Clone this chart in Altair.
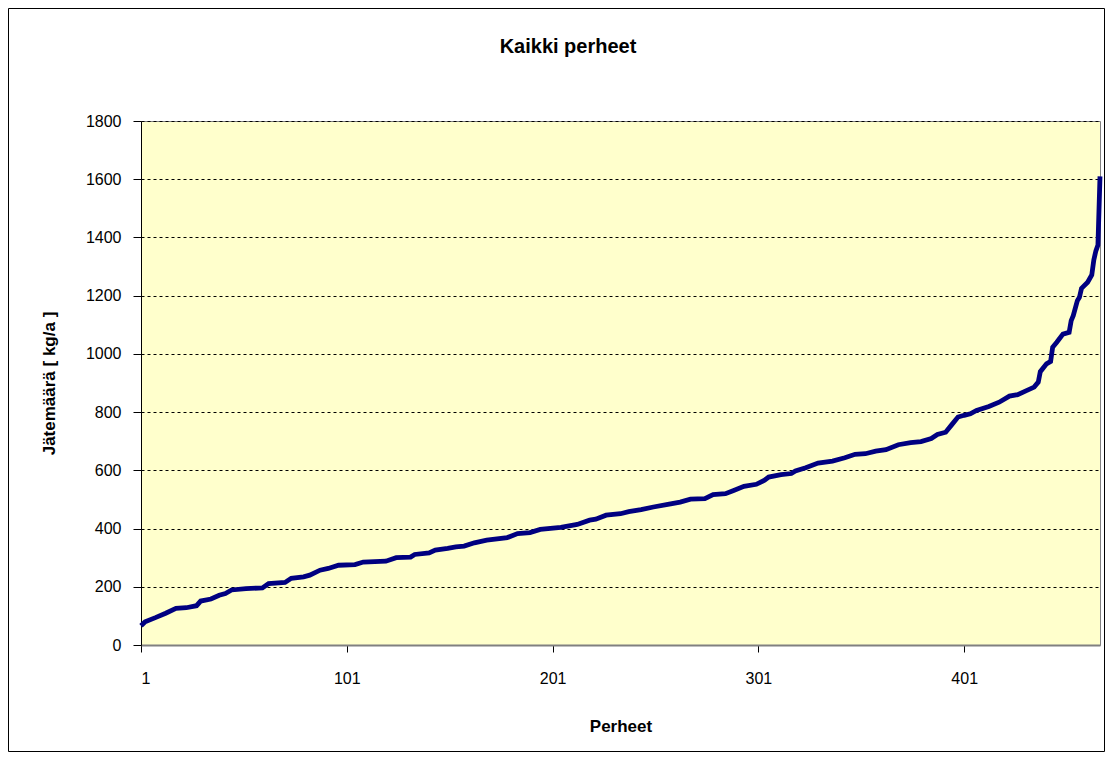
import altair as alt
import pandas as pd

# Family index (sorted by waste amount) and waste amount [kg/a]
perhe = [1, 3, 8, 13, 18, 23, 28, 30, 35, 39, 42, 45, 52, 60, 63, 71, 74, 80, 83, 88,
         92, 97, 105, 109, 120, 125, 132, 134, 141, 144, 150, 154, 158, 163, 169, 179,
         184, 190, 195, 205, 213, 219, 222, 227, 234, 238, 244, 250, 257, 263, 268, 275,
         279, 285, 289, 294, 300, 304, 306, 312, 317, 319, 324, 330, 337, 343, 348, 353,
         358, 363, 369, 375, 380, 385, 388, 392, 395, 398, 401, 404, 407, 413, 418, 423,
         427, 431, 435, 437, 438, 441, 443, 444, 446, 449, 452, 453, 454, 456, 457, 458,
         461, 463, 464, 465, 466, 467]
jatemaara = [66, 80, 94, 109, 126, 128, 135, 151, 158, 171, 177, 189, 194, 196, 211, 215,
             229, 234, 240, 257, 263, 274, 276, 285, 288, 300, 302, 311, 316, 326, 332,
             337, 340, 351, 360, 369, 383, 386, 397, 404, 414, 429, 432, 446, 451, 458,
             465, 474, 483, 491, 501, 503, 517, 520, 531, 545, 552, 566, 577, 585, 589,
             598, 609, 625, 632, 643, 655, 657, 666, 671, 688, 695, 699, 709, 723, 731,
             757, 783, 789, 794, 806, 819, 834, 855, 860, 873, 886, 903, 939, 966, 974,
             1023, 1040, 1068, 1074, 1114, 1131, 1183, 1194, 1225, 1246, 1271, 1323, 1354,
             1374, 1610]

x_ticks = [1, 101, 201, 301, 401]
y_ticks = [0, 200, 400, 600, 800, 1000, 1200, 1400, 1600, 1800]
chart_title = "Kaikki perheet"

df = pd.DataFrame({"Perheet": perhe, "Jätemäärä": jatemaara})

FONT = "Liberation Sans"
W, H = 959, 524

line = alt.Chart(df).mark_line(color="#000080", strokeWidth=4.8, strokeJoin="miter").encode(
    x=alt.X("Perheet:Q",
            scale=alt.Scale(domain=[1, 467], nice=False, zero=False),
            axis=alt.Axis(values=x_ticks, title="Perheet", grid=False, format="d",
                          domainColor="#808080", domainWidth=2,
                          tickColor="#000000", tickSize=7,
                          labelFontSize=16, labelPadding=18, labelColor="#000000",
                          titleFontSize=17, titleFontWeight="bold", titlePadding=32,
                          titleColor="#000000")),
    y=alt.Y("Jätemäärä:Q",
            scale=alt.Scale(domain=[0, 1800], nice=False),
            axis=alt.Axis(values=y_ticks, title="Jätemäärä [ kg/a ]", format="d",
                          grid=True, gridColor="#000000", gridDash=[3, 3], gridWidth=1,
                          domainColor="#000000", domainWidth=1,
                          tickColor="#000000", tickSize=8,
                          labelFontSize=16, labelPadding=12, labelColor="#000000",
                          titleFontSize=17, titleFontWeight="bold", titlePadding=27,
                          titleColor="#000000")),
)

title = alt.Chart(alt.Data(values=[{"t": chart_title}])).mark_text(
    fontSize=20, fontWeight="bold", font=FONT, color="#000000",
    align="center", baseline="middle"
).encode(text="t:N", x=alt.value(427), y=alt.value(-74))

border = alt.Chart(alt.Data(values=[{"a": 1}])).mark_rect(
    fill=None, stroke="#000000", strokeWidth=1
).encode(
    x=alt.value(-132.5), x2=alt.value(W + 4.5),
    y=alt.value(-112.5), y2=alt.value(H + 106.5),
)

chart = alt.layer(line, title, border).properties(
    width=W, height=H,
    padding={"left": 133, "top": 113, "right": 5, "bottom": 107},
    autosize=alt.AutoSizeParams(type="none"),
).configure(font=FONT).configure_view(
    fill="#FFFFCC", stroke="#808080", strokeWidth=1
).configure_axis(labelFont=FONT, titleFont=FONT)

chart.save("out.html", embed_options={"renderer": "svg", "actions": False})
